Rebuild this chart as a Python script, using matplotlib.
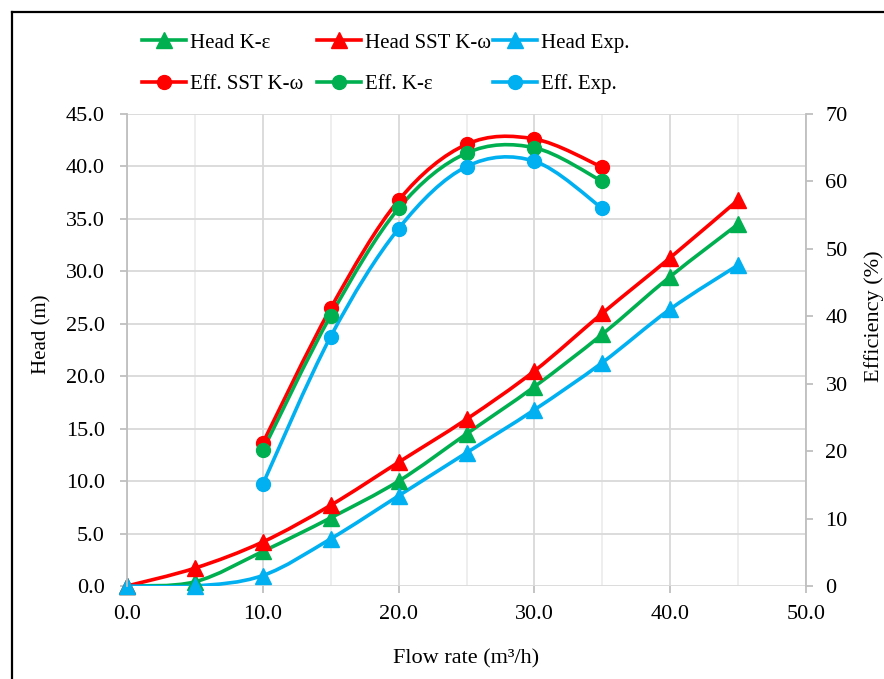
import matplotlib
matplotlib.use("Agg")
import matplotlib.pyplot as plt
from matplotlib.path import Path
from matplotlib.patches import PathPatch
from matplotlib.lines import Line2D
from matplotlib.ticker import MultipleLocator, FormatStrFormatter

plt.rcParams['font.family'] = ['Liberation Serif', 'DejaVu Serif']

#---------- Data
flow_head = [0, 5, 10, 15, 20, 25, 30, 35, 40, 45]
head_ke = [0.0, 0.4, 3.3, 6.5, 10.0, 14.5, 19.0, 24.0, 29.5, 34.5]
head_sst = [0.0, 1.7, 4.2, 7.7, 11.8, 15.9, 20.5, 26.0, 31.3, 36.8]
head_exp = [0.0, 0.0, 1.0, 4.5, 8.6, 12.7, 16.8, 21.3, 26.4, 30.6]

flow_eff = [10, 15, 20, 25, 30, 35]
eff_sst = [21.2, 41.2, 57.2, 65.5, 66.3, 62.1]
eff_ke = [20.1, 40.1, 56.0, 64.2, 65.0, 60.0]
eff_exp = [15.1, 37.0, 53.0, 62.2, 63.0, 56.0]

GREEN = '#00B050'
RED = '#FF0000'
BLUE = '#00B0F0'
FS = 16


#---------- Excel-like smoothed line (cubic Bezier through the points)
def smooth_line(ax, x, y, color, marker, ms):
    n = len(x)
    verts = [(x[0], y[0])]
    codes = [Path.MOVETO]
    for i in range(n - 1):
        x0, y0 = (x[i - 1], y[i - 1]) if i > 0 else (x[i], y[i])
        x3, y3 = (x[i + 2], y[i + 2]) if i + 2 < n else (x[i + 1], y[i + 1])
        c1 = (x[i] + (x[i + 1] - x0) / 6, y[i] + (y[i + 1] - y0) / 6)
        c2 = (x[i + 1] - (x3 - x[i]) / 6, y[i + 1] - (y3 - y[i]) / 6)
        verts += [c1, c2, (x[i + 1], y[i + 1])]
        codes += [Path.CURVE4] * 3
    ax.add_patch(PathPatch(Path(verts, codes), fill=False, edgecolor=color,
                           lw=2.6, capstyle='round', joinstyle='round'))
    ax.plot(x, y, ls='none', marker=marker, ms=ms, color=color, clip_on=False)
    return Line2D([], [], color=color, lw=2.6, marker=marker, ms=ms)


fig = plt.figure(figsize=(8.84, 6.79), dpi=100)
ax = fig.add_axes([127 / 884, 93 / 679, 679 / 884, 472 / 679])
ax2 = ax.twinx()

h_ke = smooth_line(ax, flow_head, head_ke, GREEN, '^', 11)
h_sst = smooth_line(ax, flow_head, head_sst, RED, '^', 11)
h_exp = smooth_line(ax, flow_head, head_exp, BLUE, '^', 11)
e_sst = smooth_line(ax2, flow_eff, eff_sst, RED, 'o', 10)
e_ke = smooth_line(ax2, flow_eff, eff_ke, GREEN, 'o', 10)
e_exp = smooth_line(ax2, flow_eff, eff_exp, BLUE, 'o', 10)

ax.set_xlim(0, 50)
ax.set_ylim(0, 45)
ax2.set_ylim(0, 70)

ax.xaxis.set_major_locator(MultipleLocator(10))
ax.xaxis.set_minor_locator(MultipleLocator(5))
ax.yaxis.set_major_locator(MultipleLocator(5))
ax2.yaxis.set_major_locator(MultipleLocator(10))
ax.xaxis.set_major_formatter(FormatStrFormatter('%.1f'))
ax.yaxis.set_major_formatter(FormatStrFormatter('%.1f'))

ax.grid(True, which='major', color='#D9D9D9', lw=1.3)
ax.grid(True, which='minor', axis='x', color='#EDEDED', lw=1.3)
ax.set_axisbelow(True)

for a in (ax, ax2):
    for s in a.spines.values():
        s.set_visible(False)
ax.spines['left'].set_visible(True)
ax.spines['left'].set_color('#BFBFBF')
ax.spines['left'].set_linewidth(1.3)
ax2.spines['right'].set_visible(True)
ax2.spines['right'].set_color('#BFBFBF')
ax2.spines['right'].set_linewidth(1.3)

ax.tick_params(axis='y', length=5, width=1.3, color='#BFBFBF', labelsize=FS, pad=11)
ax.tick_params(axis='x', which='major', length=5, width=1.3, color='#BFBFBF',
               labelsize=FS, pad=9)
ax.tick_params(axis='x', which='minor', length=0)
ax2.tick_params(axis='y', length=5, width=1.3, color='#BFBFBF', labelsize=FS, pad=9)

ax.set_xlabel('Flow rate (m³/h)', fontsize=FS)
ax.xaxis.set_label_coords(0.5, -(659 - 586) / 472)
ax.xaxis.label.set_va('center')
ax.set_ylabel('Head (m)', fontsize=15, va='center')
ax.yaxis.set_label_coords((42 - 127) / 679, (586 - 334) / 472)
ax2.set_ylabel('Efficiency (%)', fontsize=FS, va='center')
ax2.yaxis.set_label_coords((874 - 127) / 679, (586 - 316) / 472)

# legend: three columns of two rows, equal column spacing
col_x = [142, 317, 493]
col_items = [[(h_ke, 'Head K-ε'), (e_sst, 'Eff. SST K-ω')],
             [(h_sst, 'Head SST K-ω'), (e_ke, 'Eff. K-ε')],
             [(h_exp, 'Head Exp.'), (e_exp, 'Eff. Exp.')]]
for cx, items in zip(col_x, col_items):
    leg = fig.legend([it[0] for it in items], [it[1] for it in items],
                     loc='upper left', bbox_to_anchor=(cx / 884, 1 - 33 / 679),
                     frameon=False, fontsize=15, handlelength=2.1,
                     handletextpad=0.2, labelspacing=1.05, borderaxespad=0,
                     borderpad=0)

# frame lines at top and left of the picture
fig.add_artist(Line2D([12 / 884, 12 / 884], [0, 1 - 12 / 679], color='black', lw=1.6))
fig.add_artist(Line2D([12 / 884, 1], [1 - 12 / 679, 1 - 12 / 679], color='black', lw=1.6))

fig.savefig('out.png', dpi=100)
